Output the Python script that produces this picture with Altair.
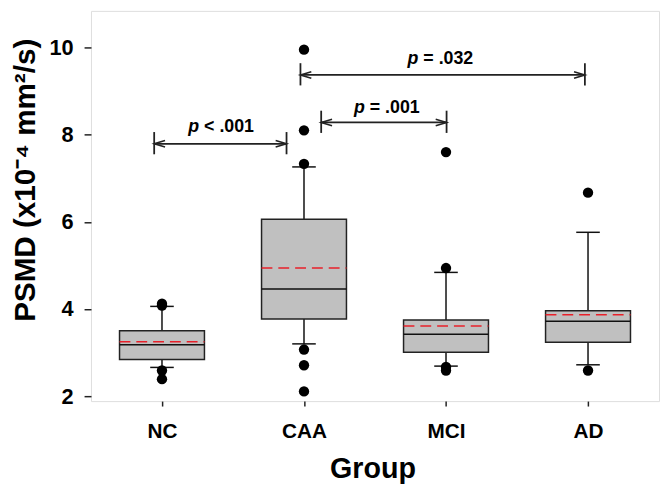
import json
import altair as alt
import pandas as pd

# ---- data ----
groups = ["NC", "CAA", "MCI", "AD"]
q1 = [2.84, 3.77, 3.01, 3.24]
median = [3.18, 4.46, 3.42, 3.72]
mean = [3.25, 4.94, 3.61, 3.87]
q3 = [3.50, 6.06, 3.75, 3.96]
whisk_lo = [2.66, 3.20, 2.69, 2.72]
whisk_hi = [4.06, 7.26, 4.84, 5.76]

out_group = ["NC", "NC", "NC", "NC",
             "CAA", "CAA", "CAA", "CAA", "CAA", "CAA",
             "MCI", "MCI", "MCI", "MCI",
             "AD", "AD"]
out_value = [4.12, 4.08, 2.59, 2.39,
             9.95, 8.10, 7.33, 3.07, 2.71, 2.11,
             7.60, 4.94, 2.67, 2.59,
             6.67, 2.59]

# significance brackets (group-axis coordinates) and labels
br_from = [-0.055, 1.121, 0.975]
br_to = [0.877, 2.004, 2.978]
br_y = [7.79, 8.28, 9.37]
lab_x = [0.279, 1.446, 1.823]
lab_y = [8.07, 8.49, 9.62]
lab_rest = ["< .001", "= .001", "= .032"]

y_ticks = [2, 4, 6, 8, 10]

# ---- tables ----
pos = list(range(len(groups)))
box = pd.DataFrame({"g": groups, "pos": pos, "q1": q1, "median": median,
                    "mean": mean, "q3": q3, "lo": whisk_lo, "hi": whisk_hi})
outl = pd.DataFrame({"g": out_group, "v": out_value})
outl["pos"] = outl["g"].map({g: i for i, g in enumerate(groups)})
ann = pd.DataFrame({"x1": br_from, "x2": br_to, "y": br_y,
                    "tx": lab_x, "ty": lab_y, "rest": lab_rest, "p": "p"})

FONT = "Liberation Sans"
HALF = 0.299   # half box width in group units
CAP = 0.083    # half cap width

xscale = alt.Scale(domain=[-0.5, 3.5], nice=False, zero=False)
yscale = alt.Scale(domain=[1.887, 10.84], nice=False, zero=False)
label_expr = json.dumps(groups) + "[datum.value]"

x_axis = alt.Axis(values=pos, labelExpr=label_expr, title="Group", grid=False,
                  domain=False, tickSize=5, tickWidth=1.5, tickColor="#222",
                  labelFont=FONT, labelFontSize=21, labelFontWeight="bold",
                  labelColor="black", labelBaseline="alphabetic", labelPadding=32,
                  titleFont=FONT, titleFontSize=29, titleFontWeight="bold",
                  titleColor="black", titleBaseline="alphabetic", titleY=77,
                  titleX=285, titleAlign="center")
y_axis = alt.Axis(values=y_ticks, format="d", title="PSMD (x10⁻⁴ mm²/s)", grid=False,
                  domain=False, tickSize=7, tickWidth=1.5, tickColor="#222",
                  labelFont=FONT, labelFontSize=22, labelFontWeight="bold",
                  labelColor="black", labelPadding=11,
                  titleFont=FONT, titleFontSize=30, titleFontWeight="bold",
                  titleColor="black", titleAngle=270, titleAlign="center",
                  titleBaseline="alphabetic", titleX=-57, titleY=171)


def X(field):
    return alt.X(field, type="quantitative", scale=xscale, axis=x_axis)


def Y(field):
    return alt.Y(field, type="quantitative", scale=yscale, axis=y_axis)


base = alt.Chart(box).transform_calculate(
    xl=f"datum.pos - {HALF}", xr=f"datum.pos + {HALF}",
    cl=f"datum.pos - {CAP}", cr=f"datum.pos + {CAP}")

whisk_up = base.mark_rule(color="#111", strokeWidth=1.5).encode(
    x=X("pos"), y=Y("q3"), y2="hi")
whisk_dn = base.mark_rule(color="#111", strokeWidth=1.5).encode(
    x=X("pos"), y=Y("lo"), y2="q1")
cap_hi = base.mark_rule(color="#111", strokeWidth=1.5).encode(
    x=X("cl"), x2="cr", y=Y("hi"))
cap_lo = base.mark_rule(color="#111", strokeWidth=1.5).encode(
    x=X("cl"), x2="cr", y=Y("lo"))
boxes = base.mark_rect(fill="#c0c0c0", stroke="#222", strokeWidth=1.5).encode(
    x=X("xl"), x2="xr", y=Y("q1"), y2="q3")
med = base.mark_rule(color="#111", strokeWidth=1.5).encode(
    x=X("xl"), x2="xr", y=Y("median"))
mn = base.mark_rule(color="#e8202a", strokeWidth=1.5, strokeDash=[11, 6]).encode(
    x=X("xl"), x2="xr", y=Y("mean"))

pts = alt.Chart(outl).mark_circle(color="black", opacity=1, size=110).encode(
    x=X("pos"), y=Y("v"))

abase = alt.Chart(ann).transform_calculate(
    ylo="datum.y - 0.24", yhi="datum.y + 0.27")
br_line = abase.mark_rule(color="#222", strokeWidth=1.8).encode(
    x=X("x1"), x2="x2", y=Y("y"))
br_left = abase.mark_rule(color="#222", strokeWidth=1.8).encode(
    x=X("x1"), y=Y("ylo"), y2="yhi")
br_right = abase.mark_rule(color="#222", strokeWidth=1.8).encode(
    x=X("x2"), y=Y("ylo"), y2="yhi")
head_l = abase.mark_point(shape="M1,-0.3L0,0L1,0.3", filled=False, color="#222",
                          strokeWidth=1.6, size=484, opacity=1).encode(
    x=X("x1"), y=Y("y"))
head_r = abase.mark_point(shape="M-1,-0.3L0,0L-1,0.3", filled=False, color="#222",
                          strokeWidth=1.6, size=484, opacity=1).encode(
    x=X("x2"), y=Y("y"))
txt_p = abase.mark_text(font=FONT, fontSize=18, fontWeight="bold", fontStyle="italic",
                        align="right", baseline="alphabetic", dx=-2.5,
                        color="black").encode(
    x=X("tx"), y=Y("ty"), text="p:N")
txt_r = abase.mark_text(font=FONT, fontSize=18, fontWeight="bold",
                        align="left", baseline="alphabetic", dx=2.5,
                        color="black").encode(
    x=X("tx"), y=Y("ty"), text="rest:N")

chart = alt.layer(
    whisk_up, whisk_dn, cap_hi, cap_lo, boxes, med, mn, pts,
    br_line, br_left, br_right, head_l, head_r, txt_p, txt_r
).properties(
    width=575, height=395,
    autosize=alt.AutoSizeParams(type="none"),
    padding={"left": 84, "top": 0, "right": 2, "bottom": 82},
).configure_view(
    stroke="#333", strokeWidth=1.5
).configure(background="white")

chart.save("out.html", embed_options={"renderer": "svg", "actions": False})
